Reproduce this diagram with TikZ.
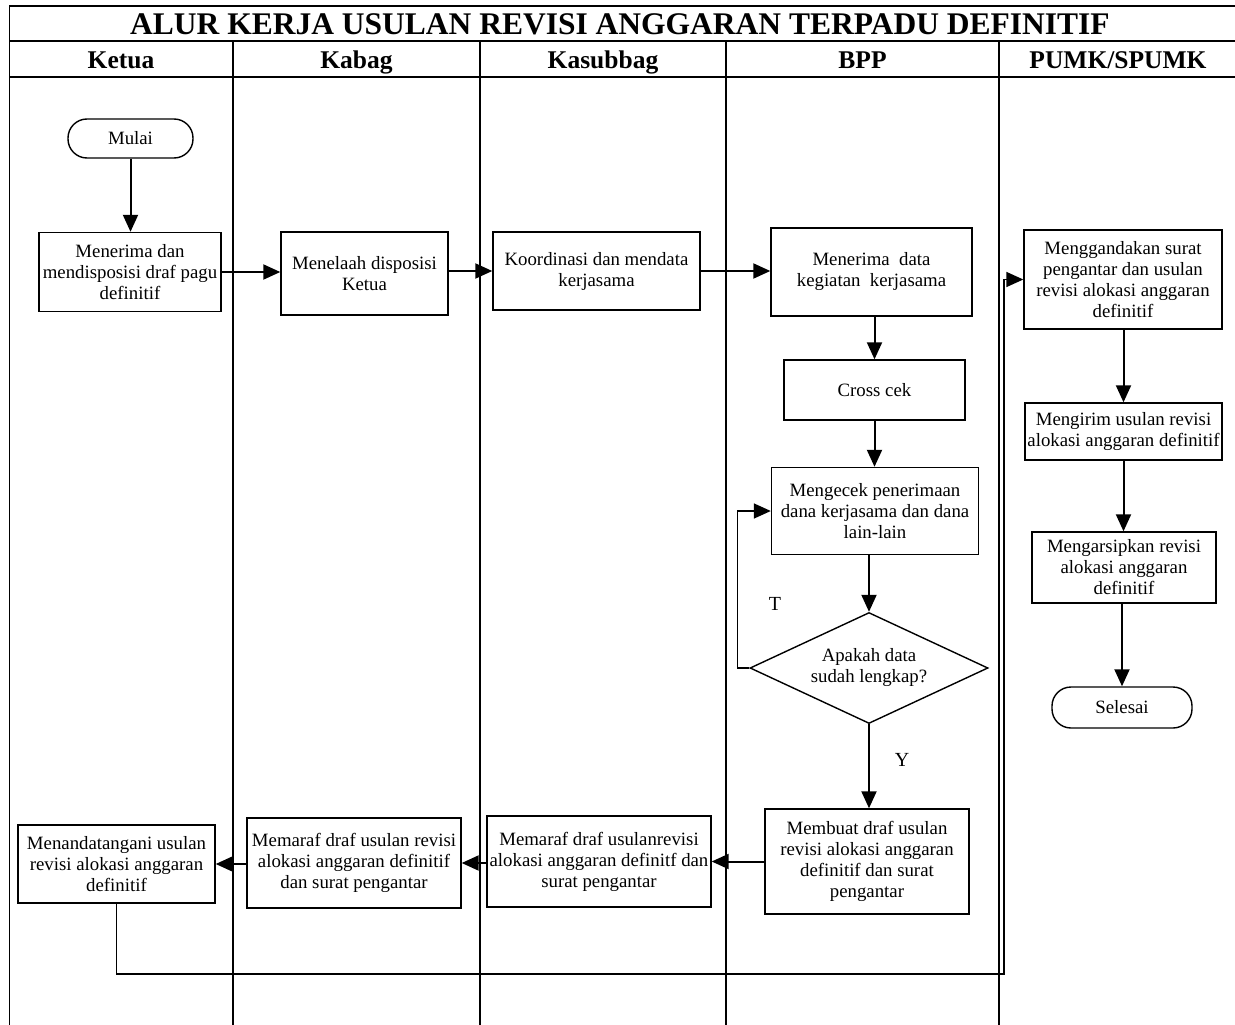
\documentclass[tikz,border=0pt]{standalone}
\usepackage{fontspec}
\setmainfont{Liberation Serif}
\usetikzlibrary{arrows.meta,shapes.geometric}
\begin{document}
\begin{tikzpicture}[x=1pt,y=-1pt,
  lane/.style={line width=1.6pt},
  body/.style={font=\fontsize{18.8}{21}\selectfont},
  proc/.style={draw, line width=1.4pt, align=center, inner sep=1pt, body},
  term/.style={proc, rounded corners=19pt},
  decision/.style={draw, diamond, shape aspect=2.14, line width=1.4pt, inner sep=0pt, align=center, body},
  flow/.style={line width=2pt, -{Triangle[length=17pt,width=15pt]}},
  head/.style={anchor=base, inner sep=0pt, font=\fontsize{25.5}{27}\selectfont\bfseries},
  titlefont/.style={anchor=base, inner sep=0pt, font=\fontsize{31.5}{32}\selectfont\bfseries},
  tag/.style={font=\fontsize{20}{22}\selectfont}
]
\useasboundingbox (0,0) rectangle (1235,1025);

% table frame and swimlanes
\draw[lane] (9.5,1025) -- (9.5,6) -- (1235,6);
\draw[lane] (9.5,41) -- (1235,41);
\draw[lane] (9.5,77) -- (1235,77);
\foreach \x in {233,480,726,999}
  \draw[lane] (\x,41) -- (\x,1025);

\node[titlefont] (title) at (620,35) {ALUR KERJA USULAN REVISI ANGGARAN TERPADU DEFINITIF};
\node[head] (hketua) at (121,68.5) {Ketua};
\node[head] (hkabag) at (356.5,68.5) {Kabag};
\node[head] (hkasub) at (603,68.5) {Kasubbag};
\node[head] (hbpp) at (862.5,68.5) {BPP};
\node[head] (hpumk) at (1118,68.5) {PUMK/SPUMK};

% Ketua
\node[term, minimum width=125pt, minimum height=39pt] (mulai) at (130.5,138.5) {Mulai};
\node[proc, minimum width=182pt, minimum height=79pt] (terimadraf) at (130,272) {Menerima dan\\mendisposisi draf pagu\\definitif};
\node[proc, minimum width=197pt, minimum height=78pt] (tanda) at (116.5,864) {Menandatangani usulan\\revisi alokasi anggaran\\definitif};

% Kabag
\node[proc, minimum width=167pt, minimum height=83pt] (telaah) at (364.5,273.5) {Menelaah disposisi\\Ketua};
\node[proc, minimum width=214pt, minimum height=90pt] (paraf1) at (354,863) {Memaraf draf usulan revisi\\alokasi anggaran definitif\\dan surat pengantar};

% Kasubbag
\node[proc, minimum width=207pt, minimum height=78pt] (koord) at (596.5,271) {Koordinasi dan mendata\\kerjasama};
\node[proc, minimum width=224pt, minimum height=91pt, inner sep=0pt] (paraf2) at (599,861.5) {Memaraf draf usulanrevisi\\alokasi anggaran definitf dan\\surat pengantar};

% BPP
\node[proc, minimum width=201pt, minimum height=88pt] (terimadata) at (871.5,272) {Menerima\ \ data\\kegiatan\ \ kerjasama};
\node[proc, minimum width=181pt, minimum height=60pt] (cross) at (874.5,390) {Cross cek};
\node[proc, minimum width=207pt, minimum height=87pt] (cek) at (875,511) {Mengecek penerimaan\\dana kerjasama dan dana\\lain-lain};
\node[decision, minimum width=238pt, minimum height=111pt] (lengkap) at (869,668) {Apakah data\\sudah lengkap?};
\node[proc, minimum width=204pt, minimum height=105pt] (buat) at (867,861.5) {Membuat draf usulan\\revisi alokasi anggaran\\definitif dan surat\\pengantar};

% PUMK/SPUMK
\node[proc, minimum width=198pt, minimum height=99pt] (ganda) at (1123,279.5) {Menggandakan surat\\pengantar dan usulan\\revisi alokasi anggaran\\definitif};
\node[proc, minimum width=197pt, minimum height=57pt] (kirim) at (1123.5,431.5) {Mengirim usulan revisi\\alokasi anggaran definitif};
\node[proc, minimum width=184pt, minimum height=71pt] (arsip) at (1124,567.5) {Mengarsipkan revisi\\alokasi anggaran\\definitif};
\node[term, minimum width=140pt, minimum height=41pt] (selesai) at (1122,707.5) {Selesai};

% decision labels
\node[tag] (tlabel) at (775,604) {T};
\node[tag] (ylabel) at (902,760) {Y};

% return path from Ketua to PUMK/SPUMK
\coordinate (loopb) at (1004,974);

% connectors
\draw[flow] (mulai.south) -- (mulai.south |- terimadraf.north);
\draw[flow] (terimadraf.east) -- (terimadraf.east -| telaah.west);
\draw[flow] (telaah.east |- koord.west) -- (koord.west);
\draw[flow] (koord.east) -- (koord.east -| terimadata.west);
\draw[flow] (terimadata.south -| cross.north) -- (cross.north);
\draw[flow] (cross.south) -- (cross.south |- cek.north);
\draw[flow] (cek.south -| lengkap.north) -- (lengkap.north);
\draw[flow, line width=1.6pt] (lengkap.west) -- ++(-12,0) |- (cek.west);
\draw[flow] (lengkap.south) -- (lengkap.south |- buat.north);
\draw[flow] (buat.west) -- (buat.west -| paraf2.east);
\draw[flow] (paraf2.west |- paraf1.east) -- (paraf1.east);
\draw[flow] (paraf1.west |- tanda.east) -- (tanda.east);
\draw[flow, line width=1.6pt] (tanda.south) |- (loopb) |- (ganda.west);
\draw[flow] (ganda.south -| kirim.north) -- (kirim.north);
\draw[flow] (kirim.south) -- (kirim.south |- arsip.north);
\draw[flow] (arsip.south -| selesai.north) -- (selesai.north);
\end{tikzpicture}
\end{document}
